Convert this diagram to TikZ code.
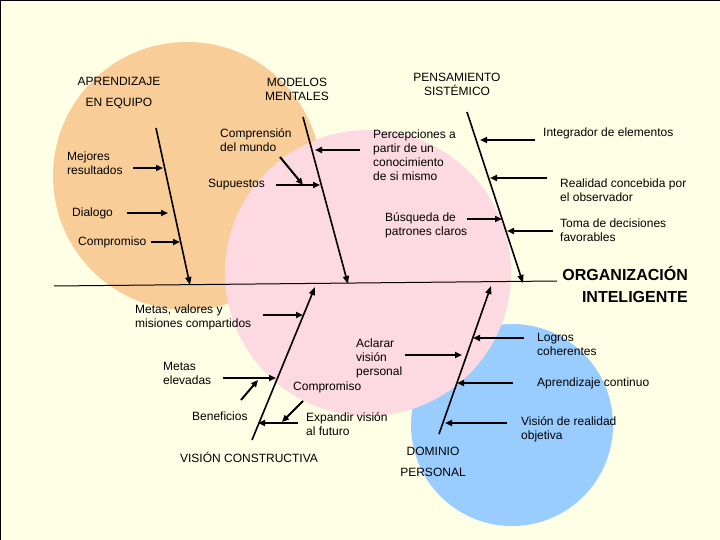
\documentclass[tikz,border=0pt]{standalone}
\usepackage{fontspec}
\setmainfont{Liberation Sans}
\usetikzlibrary{arrows.meta}
\definecolor{bgc}{HTML}{FFFFE6}
\definecolor{orangec}{HTML}{F9CD98}
\definecolor{pinkc}{HTML}{FDD9E1}
\definecolor{bluec}{HTML}{99CCFF}
\begin{document}
\begin{tikzpicture}[x=1pt,y=-1pt,
  lbl/.style={inner sep=0pt,font=\fontsize{12}{14}\selectfont,align=left,anchor=west},
  hdr/.style={inner sep=0pt,font=\fontsize{12}{14}\selectfont,align=center},
  hdrwide/.style={hdr,font=\fontsize{12}{21}\selectfont},
  rib/.style={line width=2pt,-{Triangle[length=7pt,width=6pt]}},
  bone/.style={line width=1.6pt,-{Triangle[length=8pt,width=6pt]}},
  spine/.style={line width=1pt}]
\useasboundingbox (0,0) rectangle (720,540);
\fill[bgc] (0,0) rectangle (720,540);
\draw[line width=2pt] (0,540) -- (0,0) -- (720,0);
% circles
\fill[bluec] (512,425) circle (101pt);
\fill[orangec] (187,176) circle (134pt);
\fill[pinkc] (368,273) circle (143pt);
% headers
\node[hdrwide] (aprend) at (119,93) {APRENDIZAJE\\EN EQUIPO};
\node[hdr] (modelos) at (297,89) {MODELOS\\MENTALES};
\node[hdr] (pensam) at (457,84.5) {PENSAMIENTO\\SISTÉMICO};
\node[inner sep=0pt,anchor=east,align=right,font=\fontsize{16}{22}\bfseries\selectfont] (org) at (688,284) {ORGANIZACIÓN\\INTELIGENTE};
\node[hdr] (visc) at (249,457) {VISIÓN CONSTRUCTIVA};
\node[hdrwide] (domin) at (433,462) {DOMINIO\\PERSONAL};
% labels
\node[lbl] (tmej) at (67,163.5) {Mejores\\resultados};
\node[lbl] (tdia) at (72,213) {Dialogo};
\node[lbl] (tcom) at (78,242) {Compromiso};
\node[lbl] (tcomp) at (220,140.5) {Comprensión\\del mundo};
\node[lbl] (tsup) at (208,185) {Supuestos};
\node[lbl] (tperc) at (373,155) {Percepciones a\\partir de un\\conocimiento\\de si mismo};
\node[lbl] (tint) at (543,133) {Integrador de elementos};
\node[lbl] (treal) at (560,190.5) {Realidad concebida por\\el observador};
\node[lbl] (tbus) at (385,225) {Búsqueda de\\patrones claros};
\node[lbl] (ttoma) at (560,230.5) {Toma de decisiones\\favorables};
\node[lbl] (tmval) at (135,317) {Metas, valores y\\misiones compartidos};
\node[lbl] (tmel) at (163,373) {Metas\\elevadas};
\node[lbl] (tben) at (192,416) {Beneficios};
\node[lbl] (texp) at (306,424) {Expandir visión\\al futuro};
\node[lbl] (tcom2) at (293,387) {Compromiso};
\node[lbl] (tacl) at (356,358) {Aclarar\\visión\\personal};
\node[lbl] (tlog) at (537,344) {Logros\\coherentes};
\node[lbl] (tapc) at (537,383) {Aprendizaje continuo};
\node[lbl] (tvis) at (521,429) {Visión de realidad\\objetiva};
% spine
\coordinate (spL) at (54,286);
\coordinate (spR) at (557,281);
\draw[spine] (spL) -- (spR);
% bones
\coordinate (b1t) at (156,128); \coordinate (b1e) at (190,285);
\coordinate (b2t) at (303,117); \coordinate (b2e) at (348,284);
\coordinate (b3t) at (467,112); \coordinate (b3e) at (523,283);
\coordinate (b4t) at (252,440); \coordinate (b4e) at (315,287);
\coordinate (b5t) at (439,434); \coordinate (b5e) at (491,286);
\draw[bone] (b1t) -- (b1e);
\draw[bone] (b2t) -- (b2e);
\draw[bone] (b3t) -- (b3e);
\draw[bone] (b4t) -- (b4e);
\draw[bone] (b5t) -- (b5e);
% ribs: aprendizaje
\coordinate (r1a) at (133,168); \coordinate (r1b) at (163,168);
\coordinate (r2a) at (127,213); \coordinate (r2b) at (168,213);
\coordinate (r3a) at (151,242); \coordinate (r3b) at (180,242);
\draw[rib] (r1a) -- (r1b);
\draw[rib] (r2a) -- (r2b);
\draw[rib] (r3a) -- (r3b);
% ribs: modelos
\coordinate (r4a) at (280,157); \coordinate (r4b) at (303,185);
\coordinate (r5a) at (276,185); \coordinate (r5b) at (320,185);
\coordinate (r6a) at (360,150); \coordinate (r6b) at (315,150);
\draw[rib] (r4a) -- (r4b);
\draw[rib] (r5a) -- (r5b);
\draw[rib] (r6a) -- (r6b);
% ribs: pensamiento
\coordinate (r7a) at (535,140); \coordinate (r7b) at (480,140);
\coordinate (r8a) at (547,178); \coordinate (r8b) at (490,178);
\coordinate (r9a) at (467,219); \coordinate (r9b) at (502,219);
\coordinate (r10a) at (553,231); \coordinate (r10b) at (507,231);
\draw[rib] (r7a) -- (r7b);
\draw[rib] (r8a) -- (r8b);
\draw[rib] (r9a) -- (r9b);
\draw[rib] (r10a) -- (r10b);
% ribs: vision constructiva
\coordinate (r11a) at (263,315); \coordinate (r11b) at (303,315);
\coordinate (r12a) at (223,378); \coordinate (r12b) at (276,378);
\coordinate (r13a) at (241,400); \coordinate (r13b) at (258,380);
\coordinate (r14a) at (303,401); \coordinate (r14b) at (282,422);
\coordinate (r15a) at (298,423); \coordinate (r15b) at (258,423);
\draw[rib] (r11a) -- (r11b);
\draw[rib] (r12a) -- (r12b);
\draw[rib] (r13a) -- (r13b);
\draw[rib] (r14a) -- (r14b);
\draw[rib] (r15a) -- (r15b);
% ribs: dominio
\coordinate (r16a) at (405,355); \coordinate (r16b) at (462,355);
\coordinate (r17a) at (524,338); \coordinate (r17b) at (473,338);
\coordinate (r18a) at (513,383); \coordinate (r18b) at (457,383);
\coordinate (r19a) at (507,423); \coordinate (r19b) at (445,423);
\draw[rib] (r16a) -- (r16b);
\draw[rib] (r17a) -- (r17b);
\draw[rib] (r18a) -- (r18b);
\draw[rib] (r19a) -- (r19b);
\end{tikzpicture}
\end{document}
